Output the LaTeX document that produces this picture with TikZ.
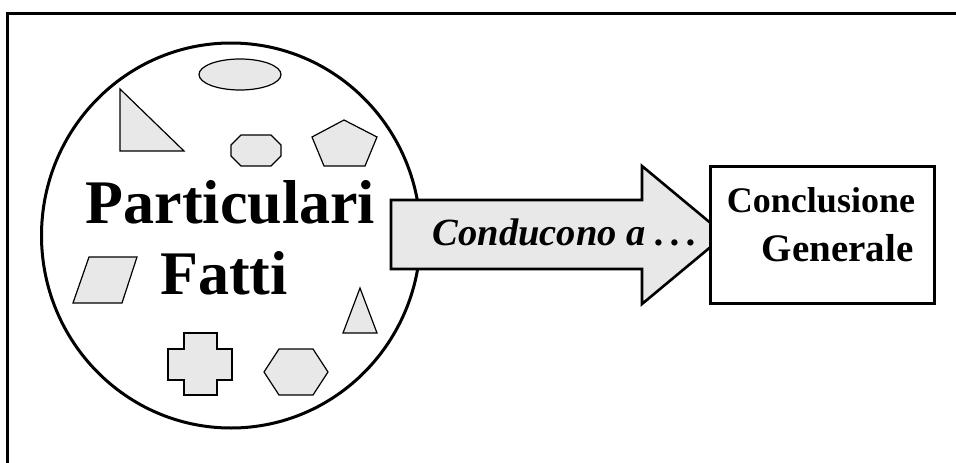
\documentclass[tikz,border=0pt]{standalone}
\usepackage{fontspec}
\setmainfont{Liberation Serif}
\begin{document}
\begin{tikzpicture}[x=1pt,y=-1pt,
  frameline/.style={line width=3pt},
  bigcircle/.style={line width=3pt,fill=white},
  item/.style={draw,line width=1.2pt,fill=shapegray,line join=miter},
  blockarrow/.style={draw,line width=2.6pt,fill=shapegray,line join=miter},
  resultbox/.style={draw,line width=3pt,fill=white},
  bigword/.style={anchor=base,inner sep=0pt,font=\bfseries\fontsize{62}{62}\selectfont},
  arrowword/.style={anchor=base,inner sep=0pt,font=\bfseries\itshape\fontsize{38.5}{38.5}\selectfont},
  boxword/.style={anchor=base,inner sep=0pt,font=\bfseries\fontsize{36}{36}\selectfont}]
\definecolor{shapegray}{HTML}{E8E8E8}
\useasboundingbox (0,0) rectangle (956,463);

% cropped outer frame: only the top and left sides show
\coordinate (frameTL) at (7,13);
\coordinate (frameTR) at (956,13);
\coordinate (frameBL) at (7,463);
\draw[frameline] (frameBL) -- (frameTL) -- (frameTR);

% the circle of particular facts
\draw[bigcircle] (231,235.5) ellipse [x radius=189.5, y radius=192.5];

% assorted shapes inside the circle
\draw[item] (240,74.5) ellipse [x radius=41, y radius=15.5];
\draw[item] (120,89) -- (120,151) -- (184,151) -- cycle;
\draw[item] (241,135) -- (271,135) -- (281,145) -- (281,156) -- (271,166)
  -- (241,166) -- (231,156) -- (231,145) -- cycle;
\draw[item] (344,120) -- (377,137) -- (365,166) -- (324,166) -- (312,137) -- cycle;
\draw[item] (89,257) -- (137,257) -- (122,303) -- (73,303) -- cycle;
\draw[item] (360,288) -- (377,333) -- (343,333) -- cycle;
\draw[item] (184,333) -- (217,333) -- (217,349) -- (232,349) -- (232,380)
  -- (217,380) -- (217,395) -- (184,395) -- (184,380) -- (168,380)
  -- (168,349) -- (184,349) -- cycle;
\draw[item] (264,372) -- (279,349) -- (313,349) -- (328,372) -- (313,395)
  -- (279,395) -- cycle;

\node[bigword] (particulari) at (230.5,223) {Particulari};
\node[bigword] (fatti) at (224,294) {Fatti};

% block arrow leading to the conclusion
\draw[blockarrow] (391,200) -- (642,200) -- (642,166) -- (725,235)
  -- (642,304) -- (642,269) -- (391,269) -- cycle;
\node[arrowword] (conducono) at (565,245) {Conducono a .\,.\,.};

% conclusion box
\node[resultbox,minimum width=224pt,minimum height=137pt,inner sep=0pt] (box) at (822,234.5) {};
\node[boxword] (conclusione) at (821,212) {Conclusione};
\node[boxword,font=\bfseries\fontsize{39}{39}\selectfont] (generale) at (837.5,261) {Generale};
\end{tikzpicture}
\end{document}
